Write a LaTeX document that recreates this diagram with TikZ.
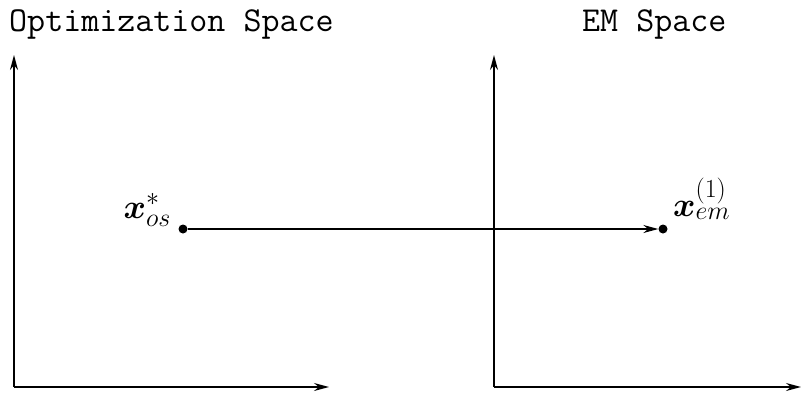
\RequirePackage{fix-cm}
\documentclass[tikz,border=0pt]{standalone}
\usepackage{amsmath,bm}
\usepackage{fontspec}
\usetikzlibrary{arrows.meta, positioning}
\DeclareMathSizes{34}{34}{26}{20}

\begin{document}
\begin{tikzpicture}[
    x=1pt, y=-1pt,
    >={Stealth[length=15pt,width=8pt]},
    axis/.style={
        ->,
        line width=1.3pt
    },
    link/.style={
        ->,
        line width=1.1pt
    },
    dot/.style={
        circle,
        fill,
        inner sep=0pt,
        minimum size=9pt
    },
    title/.style={
        font=\fontsize{35}{40}\selectfont\ttfamily,
        inner sep=0pt
    },
    mathlabel/.style={
        font=\fontsize{34}{40}\selectfont,
        inner sep=0pt
    }
]
\useasboundingbox (0,0) rectangle (803,394);

% Axes
\coordinate (osorigin) at (14,387);
\coordinate (osy) at (14,55);
\coordinate (osx) at (329,387);
\coordinate (emorigin) at (494,387);
\coordinate (emy) at (494,55);
\coordinate (emx) at (801,387);

\draw[axis] (osorigin) -- (osy);
\draw[axis] (osorigin) -- (osx);
\draw[axis] (emorigin) -- (emy);
\draw[axis] (emorigin) -- (emx);

% Titles
\node[title, anchor=base west] (ostitle) at (9,31) {Optimization Space};
\node[title, anchor=base west] (emtitle) at (582,31) {EM Space};

% Points
\node[dot] (xos) at (183,229) {};
\node[dot] (xem) at (663,229) {};
\node[mathlabel, anchor=base east] (xoslabel) at (171,218) {$\bm{x}^*_{os}$};
\node[mathlabel, anchor=base west] (xemlabel) at (673,216) {$\bm{x}^{(1)}_{em}$};

% Mapping
\draw[link] (xos) -- (xem);

\end{tikzpicture}
\end{document}
